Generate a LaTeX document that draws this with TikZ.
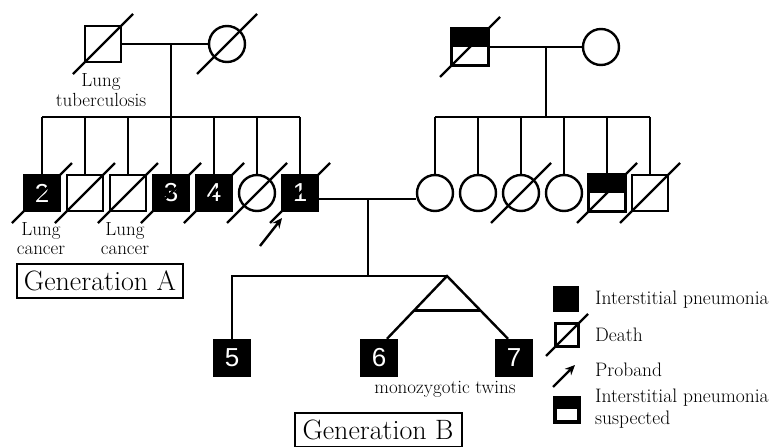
\documentclass[tikz,border=0pt]{standalone}
\usepackage{fontspec}
\newfontfamily\numfont{Liberation Sans}
\usetikzlibrary{calc,arrows.meta}
\newcommand\dslash[2][30]{\draw ($(#2)+(-#1,#1)$) -- ($(#2)+(#1,-#1)$);}
\begin{document}
\begin{tikzpicture}[x=1pt,y=-1pt, line width=2.4pt,
  sq/.style={draw, rectangle, minimum size=36pt, inner sep=0pt},
  ci/.style={draw, circle, minimum size=36pt, inner sep=0pt},
  aff/.style={sq, fill=black, text=white, font=\numfont\fontsize{26}{26}\selectfont},
  lsq/.style={draw, rectangle, minimum size=23pt, inner sep=0pt},
  lbl/.style={font=\fontsize{19}{19}\selectfont, align=center, inner sep=0pt},
  leg/.style={font=\fontsize{19.5}{22}\selectfont, align=left, inner sep=0pt, anchor=west},
  gen/.style={draw, font=\fontsize{28}{28}\selectfont, inner sep=0pt, line width=2pt, minimum height=34pt},
  tip/.style={-{Stealth[length=10pt,width=9pt]}},
]
\useasboundingbox (0,0) rectangle (769,447);
% ---------- Generation 0, left
\node[sq] (gf1) at (103,44) {};
\node[ci] (gm1) at (227,44) {};
\dslash{gf1} \dslash{gm1}
\draw (gf1.east) -- (gm1.west);
\coordinate (m1) at (171,44);
\coordinate (sA) at (0,117);
\node[lbl] (tb) at (101,90) {Lung\\[1pt]tuberculosis};
% ---------- Generation 0, right
\node[sq] (gf2) at (470,47) {};
\fill (gf2.north west) rectangle (gf2.east);
\draw (gf2.north west) rectangle (gf2.south east);
\node[ci] (gm2) at (601,47) {};
\dslash{gf2}
\draw (gf2.east) -- (gm2.west);
\coordinate (m2) at (546,47);
% ---------- Generation A, left siblings
\node[aff] (a2) at (42,193) {2};
\node[sq]  (ad1) at (85,193) {};
\node[sq]  (ad2) at (128,193) {};
\node[aff] (a3) at (171,193) {3};
\node[aff] (a4) at (214,193) {4};
\node[ci]  (ac) at (257,193) {};
\node[aff] (a1) at (300,193) {1};
\foreach \n in {a2,ad1,ad2,a3,a4,ac,a1} {\dslash{\n} \draw (\n.north) -- (\n.north |- sA);}
\draw (a2.north |- sA) -- (a1.north |- sA);
\draw (m1) -- (m1 |- sA);
\node[lbl] (lc1) at (41,239) {Lung\\cancer};
\node[lbl] (lc2) at (125,239) {Lung\\cancer};
\coordinate (pb) at (260,246);
\draw[tip] (pb) -- (282,218);
% ---------- Generation A, right siblings
\coordinate (sA2) at (0,117);
\node[ci] (b1) at (435,193) {};
\node[ci] (b2) at (478,193) {};
\node[ci] (b3) at (521,193) {};
\node[ci] (b4) at (564,193) {};
\node[sq] (b5) at (607,193) {};
\fill (b5.north west) rectangle (b5.east);
\draw (b5.north west) rectangle (b5.south east);
\node[sq] (b6) at (650,193) {};
\foreach \n in {b1,b2,b3,b4,b5,b6} {\draw (\n.north) -- (\n.north |- sA2);}
\dslash{b3} \dslash{b5} \dslash{b6}
\draw (b1.north |- sA2) -- (b6.north |- sA2);
\draw (m2) -- (m2 |- sA2);
% ---------- marriage A
\coordinate (mB) at (368,199);
\coordinate (sB) at (0,276);
\draw (a1.east |- mB) -- (b1.west |- mB);
\draw (mB) -- (mB |- sB);
% ---------- Generation B
\node[aff] (c5) at (232,358) {5};
\node[aff] (c6) at (379,358) {6};
\node[aff] (c7) at (514,358) {7};
\coordinate (tw) at (447,276);
\draw (c5.north) -- (c5.north |- sB) -- (tw);
\coordinate (t6) at ([xshift=8pt]c6.north);
\coordinate (t7) at ([xshift=-6pt]c7.north);
\draw (t6) -- (tw) -- (t7);
\draw ($(tw)!0.55!(t6)$) -- ($(tw)!0.55!(t7)$);
\node[lbl] (mz) at (445,389) {monozygotic twins};
% ---------- generation boxes
\node[gen, minimum width=166pt] (gA) at (100,281) {Generation A};
\node[gen, minimum width=167pt] (gB) at (378,430) {Generation B};
% ---------- legend
\node[lsq, fill=black] (l1) at (566,299) {};
\node[leg] (t1) at (594,300) {Interstitial pneumonia};
\node[lsq] (l2) at (567,335) {};
\dslash[21]{l2}
\node[leg] (t2) at (594,335) {Death};
\coordinate (l3) at (553,387);
\draw[tip] (l3) -- (575,365);
\node[leg] (t3) at (594,370) {Proband};
\node[lsq] (l4) at (567,410) {};
\fill (l4.north west) rectangle ([yshift=1pt]l4.east);
\draw (l4.north west) rectangle (l4.south east);
\node[leg] (t4) at (594,409) {Interstitial pneumonia\\suspected};
\end{tikzpicture}
\end{document}
